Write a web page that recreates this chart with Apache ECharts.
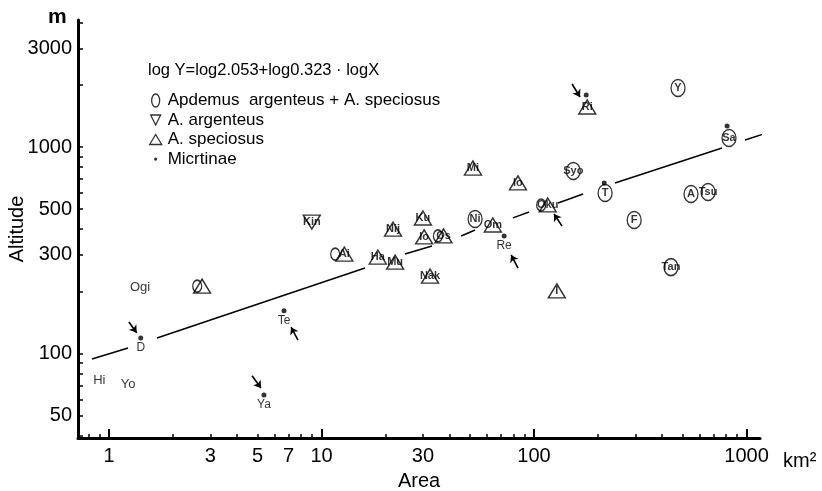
<!DOCTYPE html>
<html>
<head>
<meta charset="utf-8">
<script src="https://cdn.jsdelivr.net/npm/echarts@6/dist/echarts.min.js"></script>
<style>
html, body { margin: 0; padding: 0; background: #fff; }
#chart { width: 822px; height: 491px; }
</style>
</head>
<body>
<div id="chart"></div>
<script>
// ---- axis ticks ----
var xLabelValues = [1, 3, 5, 7, 10, 30, 100, 1000];
var xMajorTicks = [1, 10, 100, 1000];
var xMinorTicks = [0.8, 0.9, 1, 2, 3, 4, 5, 6, 7, 8, 9, 10, 20, 30, 40, 50, 60, 70, 80, 90,
                   100, 200, 300, 400, 500, 600, 700, 800, 900, 1000];
var yLabelValues = [50, 100, 300, 500, 1000, 3000];
var yMinorTicks = [40, 50, 60, 70, 80, 90, 100, 200, 300, 400, 500, 600, 700, 800, 900,
                   1000, 2000, 3000, 4000];

// ---- Apdemus argenteus + A. speciosus (circles) ----
var circleNames = ['Ni', 'Syo', 'T', 'Y', 'Sa', 'A', 'Tsu', 'F', 'Tan'];
var circleArea  = [52.8, 153, 216, 476, 827, 548, 659, 296, 441];
var circleAlt   = [448, 765, 599, 1931, 1106, 592, 605, 443, 262];
// small circles drawn beside a triangle (both species at one place)
var comboArea = [11.6, 2.6, 35.3, 108];
var comboAlt  = [303, 212, 371, 524];

// ---- A. argenteus (triangle down) ----
var downNames = ['Kin'];
var downArea  = [9.0];
var downAlt   = [433];

// ---- A. speciosus (triangle up) ----
var upNames = ['Nij', 'Ku', 'Io', 'Os', 'Ai', 'Ha', 'Mu', 'Nak', 'Om', 'Mi', 'Io', 'Oku', 'Ri', 'I', ''];
var upArea  = [21.7, 30, 30.4, 37.5, 12.8, 18.4, 22.2, 32.4, 64, 51.6, 84, 116, 178, 128, 2.74];
var upAlt   = [400, 453, 367, 371, 303, 293, 277, 237, 419, 791, 670, 524, 1562, 201, 212];

// ---- Micrtinae (dots) ----
var dotNames = ['D', 'Te', 'Ya', 'Re', '', '', ''];
var dotArea  = [1.41, 6.66, 5.36, 72.3, 176, 214, 810];
var dotAlt   = [119, 161, 63, 371, 1786, 670, 1264];

// arrows pointing at some dots: [tailArea, tailAlt, headArea, headAlt]
var arrows = [
    [1.24, 142, 1.35, 126],
    [4.71, 78, 5.19, 68],
    [7.75, 116, 7.19, 134],
    [84.1, 259, 78.0, 300],
    [135.5, 414, 124.2, 474],
    [151, 2019, 164.6, 1746]
];

// ---- names without a symbol ----
var textNames = ['Ogi', 'Hi', 'Yo'];
var textArea  = [1.4, 0.9, 1.23];
var textAlt   = [210, 74, 71];

// ---- regression line, broken where it crosses labels ----
var lineSegments = [
    [[0.832, 94.0], [1.229, 106.3]],
    [[1.682, 118.9], [16.02, 259.4]],
    [[24.7, 303.2], [33.1, 331.6]],
    [[45.4, 370.7], [52.8, 396.3]],
    [[79.6, 453.2], [94.7, 484.5]],
    [[129.7, 535.6], [170.1, 592.1]],
    [[240.5, 669.6], [766.5, 988.9]],
    [[983.8, 1081], [1518, 1250]]
];

var nameBoth = 'Apdemus  argenteus + A. speciosus';
var FONT = 'Liberation Sans';
var ellipse = 'path://M6,0 A6,8 0 1,0 6,16 A6,8 0 1,0 6,0 Z';

function pts(names, xs, ys)
{
    var out = [];
    for (var i = 0; i < xs.length; i++) {
        out.push({ name: names[i], value: [xs[i], ys[i]] });
    }
    return out;
}

var chart = echarts.init(document.getElementById('chart'));

var circleData = pts(circleNames, circleArea, circleAlt);
for (var i = 0; i < comboArea.length; i++) {
    circleData.push({
        name: '',
        value: [comboArea[i], comboAlt[i]],
        symbolSize: [9, 12],
        label: { show: false }
    });
}

var arrowData = arrows.map(function (a) {
    return [{ coord: [a[0], a[1]] }, { coord: [a[2], a[3]] }];
});

var outline = { color: 'rgba(0,0,0,0)', borderColor: '#000', borderWidth: 1.4 };
var innerLabel = { show: true, position: 'inside', formatter: '{b}', color: '#000',
                   fontSize: 11, fontFamily: FONT, fontWeight: 'bold' };

var series = [
    {
        name: nameBoth,
        type: 'scatter',
        symbol: ellipse,
        symbolSize: [14, 17],
        itemStyle: outline,
        label: innerLabel,
        data: circleData,
        z: 3
    },
    {
        name: 'A. argenteus',
        type: 'scatter',
        symbol: 'triangle',
        symbolRotate: 180,
        symbolSize: [17, 14],
        itemStyle: outline,
        label: innerLabel,
        data: pts(downNames, downArea, downAlt),
        z: 3
    },
    {
        name: 'A. speciosus',
        type: 'scatter',
        symbol: 'triangle',
        symbolSize: [17, 14],
        itemStyle: outline,
        label: innerLabel,
        data: pts(upNames, upArea, upAlt),
        z: 3
    },
    {
        name: 'Micrtinae',
        type: 'scatter',
        symbol: 'circle',
        symbolSize: 5,
        itemStyle: { color: '#000' },
        label: { show: true, position: 'bottom', distance: 1, formatter: '{b}',
                 color: '#000', fontSize: 12, fontFamily: FONT },
        data: pts(dotNames, dotArea, dotAlt),
        markLine: {
            silent: true,
            symbol: ['none', 'arrow'],
            symbolSize: 7,
            label: { show: false },
            lineStyle: { color: '#000', width: 1.6, type: 'solid' },
            data: arrowData
        },
        z: 4
    },
    {
        name: 'names',
        type: 'scatter',
        symbolSize: 1,
        itemStyle: { color: 'rgba(0,0,0,0)' },
        label: { show: true, position: 'inside', formatter: '{b}', color: '#000',
                 fontSize: 13, fontFamily: FONT },
        data: pts(textNames, textArea, textAlt)
    }
];

lineSegments.forEach(function (seg) {
    series.push({
        name: 'fit',
        type: 'line',
        data: seg,
        symbol: 'none',
        clip: false,
        silent: true,
        lineStyle: { color: '#000', width: 1.4 },
        z: 2
    });
});

var option = {
    backgroundColor: '#fff',
    animation: false,
    textStyle: { fontFamily: FONT, color: '#000' },
    grid: { left: 78, right: 62, top: 20, bottom: 53, containLabel: false, outerBoundsMode: 'none' },
    legend: {
        orient: 'vertical',
        left: 143,
        top: 87,
        selectedMode: false,
        itemWidth: 14,
        itemHeight: 14,
        itemGap: 2.5,
        textStyle: { fontSize: 17, color: '#000', fontFamily: FONT },
        data: [
            { name: nameBoth, icon: 'path://M0,0 M14,14 M7,0.5 A4,6.5 0 1,0 7,13.5 A4,6.5 0 1,0 7,0.5 Z',
              itemStyle: { color: 'rgba(0,0,0,0)', borderColor: '#000', borderWidth: 1.3 } },
            { name: 'A. argenteus', icon: 'path://M0,0 M14,14 M2,2 L12,2 L7,12 Z',
              itemStyle: { color: 'rgba(0,0,0,0)', borderColor: '#000', borderWidth: 1.3 } },
            { name: 'A. speciosus', icon: 'path://M0,0 M14,14 M1,12 L13,12 L7,2 Z',
              itemStyle: { color: 'rgba(0,0,0,0)', borderColor: '#000', borderWidth: 1.3 } },
            { name: 'Micrtinae', icon: 'path://M0,0 M14,14 M7,5.5 A1.6,1.6 0 1,0 7,8.7 A1.6,1.6 0 1,0 7,5.5 Z',
              itemStyle: { color: '#000', borderWidth: 0 } }
        ]
    },
    xAxis: [
        {
            type: 'log',
            logBase: 10,
            min: 0.7146,
            max: 1157,
            name: 'Area',
            nameLocation: 'middle',
            nameGap: 33,
            nameMoveOverlap: false,
            nameTextStyle: { fontSize: 20, color: '#000', fontFamily: FONT },
            axisLine: { show: true, lineStyle: { color: '#000', width: 3 } },
            axisTick: { show: true, inside: true, length: 4, customValues: xMinorTicks,
                        lineStyle: { color: '#000', width: 1.5 } },
            axisLabel: { show: true, customValues: xLabelValues, margin: 8,
                         fontSize: 20, color: '#000', fontFamily: FONT,
                         formatter: function (v) { return String(Math.round(v)); } },
            splitLine: { show: false },
            minorTick: { show: false }
        },
        {
            type: 'log',
            logBase: 10,
            min: 0.7146,
            max: 1157,
            position: 'bottom',
            axisLine: { show: false },
            axisTick: { show: true, inside: true, length: 9, customValues: xMajorTicks,
                        lineStyle: { color: '#000', width: 2 } },
            axisLabel: { show: false },
            splitLine: { show: false }
        }
    ],
    yAxis: {
        type: 'log',
        logBase: 10,
        min: 38.97,
        max: 4121,
        name: 'Altitude',
        nameLocation: 'middle',
        nameGap: 51,
        nameMoveOverlap: false,
        nameTextStyle: { fontSize: 20, color: '#000', fontFamily: FONT },
        axisLine: { show: true, lineStyle: { color: '#000', width: 3 } },
        axisTick: { show: true, inside: true, length: 5, customValues: yMinorTicks,
                    lineStyle: { color: '#000', width: 1.5 } },
        axisLabel: { show: true, customValues: yLabelValues, margin: 6,
                     fontSize: 20, color: '#000', fontFamily: FONT,
                     formatter: function (v) { return String(Math.round(v)); } },
        splitLine: { show: false },
        minorTick: { show: false }
    },
    graphic: [
        { type: 'text', left: 148, top: 62,
          style: { text: 'log Y=log2.053+log0.323 · logX', fontSize: 16.5, fontFamily: FONT, fill: '#000' } },
        { type: 'text', left: 48, top: 7,
          style: { text: 'm', fontSize: 21, fontWeight: 'bold', fontFamily: FONT, fill: '#000' } },
        { type: 'text', left: 783, top: 451,
          style: { text: 'km²', fontSize: 20, fontFamily: FONT, fill: '#000' } }
    ],
    series: series
};

chart.setOption(option);
</script>
</body>
</html>
